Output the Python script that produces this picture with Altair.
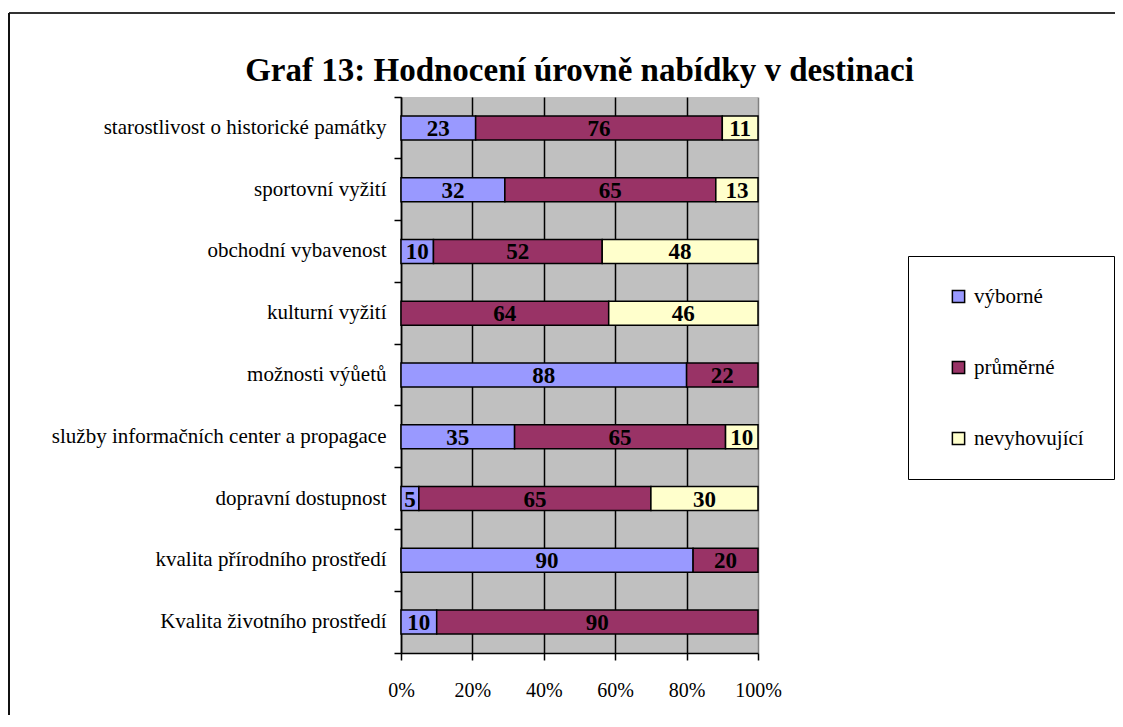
import altair as alt
import pandas as pd

categories = [
    "starostlivost o historické památky",
    "sportovní vyžití",
    "obchodní vybavenost",
    "kulturní vyžití",
    "možnosti výůetů",
    "služby informačních center a propagace",
    "dopravní dostupnost",
    "kvalita přírodního prostředí",
    "Kvalita životního prostředí",
]
series = ["výborné", "průměrné", "nevyhovující"]
vyborne = [23, 32, 10, 0, 88, 35, 5, 90, 10]
prumerne = [76, 65, 52, 64, 22, 65, 65, 20, 90]
nevyhovujici = [11, 13, 48, 46, 0, 10, 30, 0, 0]
colors = ["#9999FF", "#993366", "#FFFFCC"]
x_ticks = [0, 0.2, 0.4, 0.6, 0.8, 1.0]

rows = []
for i, c in enumerate(categories):
    for j, (s, vals) in enumerate(zip(series, [vyborne, prumerne, nevyhovujici])):
        rows.append({"cat": c, "series": s, "order": j, "value": vals[i]})
df = pd.DataFrame(rows)

FONT = "Liberation Serif"
W, H = 357, 556

base = (
    alt.Chart(df)
    .transform_filter("datum.value > 0")
    .transform_stack(
        stack="value",
        groupby=["cat"],
        sort=[alt.SortField("order", "ascending")],
        as_=["v0", "v1"],
        offset="normalize",
    )
    .transform_calculate(mid="(datum.v0 + datum.v1) / 2")
)

y_enc = alt.Y(
    "cat:N",
    sort=categories,
    title=None,
    scale=alt.Scale(paddingInner=0, paddingOuter=0),
    axis=alt.Axis(
        domainColor="black",
        domainWidth=1.5,
        tickColor="black",
        tickWidth=1.5,
        tickSize=7,
        bandPosition=1,
        tickExtra=True,
        labelPadding=8,
        labelFont=FONT,
        labelFontSize=21,
        labelColor="black",
        labelLimit=400,
    ),
)

bars = base.mark_bar(size=24, stroke="black", strokeWidth=1.5).encode(
    x=alt.X(
        "v0:Q",
        title=None,
        scale=alt.Scale(domain=[0, 1], nice=False),
        axis=alt.Axis(
            values=x_ticks,
            format="%",
            grid=True,
            gridColor=alt.condition("datum.value >= 1", alt.value("#808080"), alt.value("black")),
            gridWidth=1.5,
            domainColor="black",
            domainWidth=1.5,
            tickColor="black",
            tickWidth=1.5,
            tickSize=7,
            labelPadding=20,
            labelFlush=False,
            labelOverlap=False,
            labelFont=FONT,
            labelFontSize=20,
            labelColor="black",
        ),
    ),
    x2="v1:Q",
    y=y_enc,
    color=alt.Color(
        "series:N",
        sort=series,
        scale=alt.Scale(domain=series, range=colors),
        legend=alt.Legend(
            title=None,
            orient="none",
            legendX=507,
            legendY=159,
            padding=30,
            symbolOffset=10,
            strokeColor="black",
            fillColor="white",
            symbolType="square",
            symbolSize=150,
            symbolStrokeColor="black",
            symbolStrokeWidth=1.5,
            rowPadding=49,
            labelOffset=5,
            labelFont=FONT,
            labelFontSize=21,
            labelColor="black",
        ),
    ),
)

labels = base.mark_text(
    font=FONT, fontSize=23, fontWeight="bold", color="black", baseline="middle", dy=1
).encode(
    x="mid:Q",
    y=alt.Y("cat:N", sort=categories),
    text="value:Q",
)

frame_df = pd.DataFrame({"k": [0]})
top_line = alt.Chart(frame_df).mark_rule(color="#333333", strokeWidth=2).encode(
    x=alt.value(-392), x2=alt.value(1000), y=alt.value(-84)
)
left_line = alt.Chart(frame_df).mark_rule(color="#111111", strokeWidth=2).encode(
    x=alt.value(-392), y=alt.value(-84), y2=alt.value(800)
)

chart = (
    alt.layer(bars, labels, top_line, left_line)
    .properties(
        width=W,
        height=H,
        autosize=alt.AutoSizeParams(type="none"),
        padding={"left": 393, "top": 89, "right": 357, "bottom": 62},
        background="white",
        title=alt.TitleParams(
            "Graf 13: Hodnocení úrovně nabídky v destinaci",
            font=FONT,
            fontSize=33,
            fontWeight="bold",
            color="black",
            anchor="middle",
            frame="group",
            baseline="alphabetic",
            offset=0,
            dy=102,
        ),
    )
    .configure_view(stroke=None, fill="#C0C0C0")
)

chart.save("out.html", embed_options={"renderer": "svg", "actions": False})
